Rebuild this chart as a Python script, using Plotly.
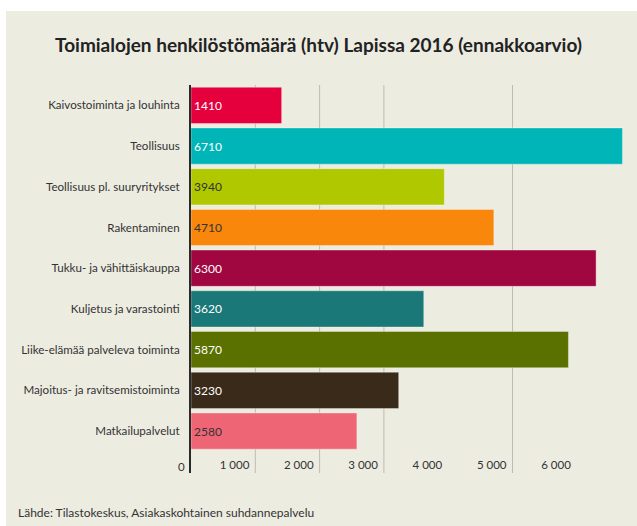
import plotly.graph_objects as go

categories = [
    "Kaivostoiminta ja louhinta",
    "Teollisuus",
    "Teollisuus pl. suuryritykset",
    "Rakentaminen",
    "Tukku- ja vähittäiskauppa",
    "Kuljetus ja varastointi",
    "Liike-elämää palveleva toiminta",
    "Majoitus- ja ravitsemistoiminta",
    "Matkailupalvelut",
]
values = [1410, 6710, 3940, 4710, 6300, 3620, 5870, 3230, 2580]
bar_colors = ["#E5003D", "#00B5B8", "#AFC800", "#F8870B", "#A0063F",
              "#1A7978", "#5A7100", "#3A2A1A", "#EE6675"]
text_colors = ["white", "white", "#333333", "#333333", "white",
               "white", "white", "white", "#333333"]
x_ticks = [0, 1000, 2000, 3000, 4000, 5000, 6000]
grid_values = [1000, 2000, 3000, 5000]

title = "Toimialojen henkilöstömäärä (htv) Lapissa 2016 (ennakkoarvio)"
source = "Lähde: Tilastokeskus, Asiakaskohtainen suhdannepalvelu"

W, H = 637, 526
L, R, T, B = 191, 630, 85, 473
pw, ph = R - L, B - T
px_per_unit = 64.3 / 1000
xmax = pw / px_per_unit

def px2paper_x(px):
    return (px - L) / pw

def px2paper_y(py):
    return (B - py) / ph

BG = "#EDECE1"
FONT = "Lato"

fig = go.Figure()
fig.add_trace(go.Bar(
    x=values,
    y=categories,
    orientation="h",
    marker=dict(color=bar_colors, line=dict(color="rgba(255,255,255,0.35)", width=1)),
    width=0.89,
    text=values,
    texttemplate="%{x:d}",
    textposition="inside",
    insidetextanchor="start",
    textfont=dict(family=FONT, size=12, color=text_colors),
    hoverinfo="skip",
    cliponaxis=False,
))

shapes = [
    dict(type="rect", xref="paper", yref="paper",
         x0=px2paper_x(6), x1=px2paper_x(W), y0=px2paper_y(H), y1=px2paper_y(11),
         fillcolor=BG, line=dict(width=0), layer="below"),
]
for g in grid_values:
    shapes.append(dict(type="line", xref="x", yref="paper", x0=g, x1=g, y0=0, y1=1,
                       line=dict(color="#BDBCB3", width=1), layer="below"))

fig.update_layout(
    width=W, height=H,
    margin=dict(l=L, r=W - R, t=T, b=H - B, pad=0),
    paper_bgcolor="white",
    plot_bgcolor="rgba(0,0,0,0)",
    font=dict(family=FONT, size=11, color="#333333"),
    separators=", ",
    showlegend=False,
    shapes=shapes,
    title=dict(text="<b>" + title + "</b>", x=0.5, xanchor="center",
               y=1 - 45 / H, yanchor="middle",
               font=dict(family=FONT, size=19, color="#222222")),
    xaxis=dict(range=[0, xmax], tickvals=x_ticks, tickformat=",d",
               showgrid=False, zeroline=False, showline=False, ticks="",
               ticklabelposition="inside left", ticklabelshift=-6,
               ticklabelstandoff=-4,
               tickfont=dict(family=FONT, size=11.5, color="#333333"),
               fixedrange=True),
    yaxis=dict(categoryorder="array", categoryarray=categories,
               range=[9.03, -0.5], showgrid=False, zeroline=False,
               showline=True, linecolor="#2A2A2A", linewidth=2, ticks="",
               ticklabelstandoff=7,
               tickfont=dict(family=FONT, size=11.6, color="#333333"),
               fixedrange=True),
    annotations=[
        dict(text=source, xref="paper", yref="paper",
             x=px2paper_x(16), y=px2paper_y(512), xanchor="left",
             yanchor="middle", showarrow=False,
             font=dict(family=FONT, size=12, color="#333333")),
        dict(text=str(x_ticks[0]), xref="x", yref="paper",
             x=x_ticks[0], y=px2paper_y(466), xanchor="right", xshift=-4,
             yanchor="middle", showarrow=False,
             font=dict(family=FONT, size=11.5, color="#333333")),
    ],
)

fig.write_html("out.html", post_script="document.body.style.margin='0';",
               config={"displayModeBar": False})
